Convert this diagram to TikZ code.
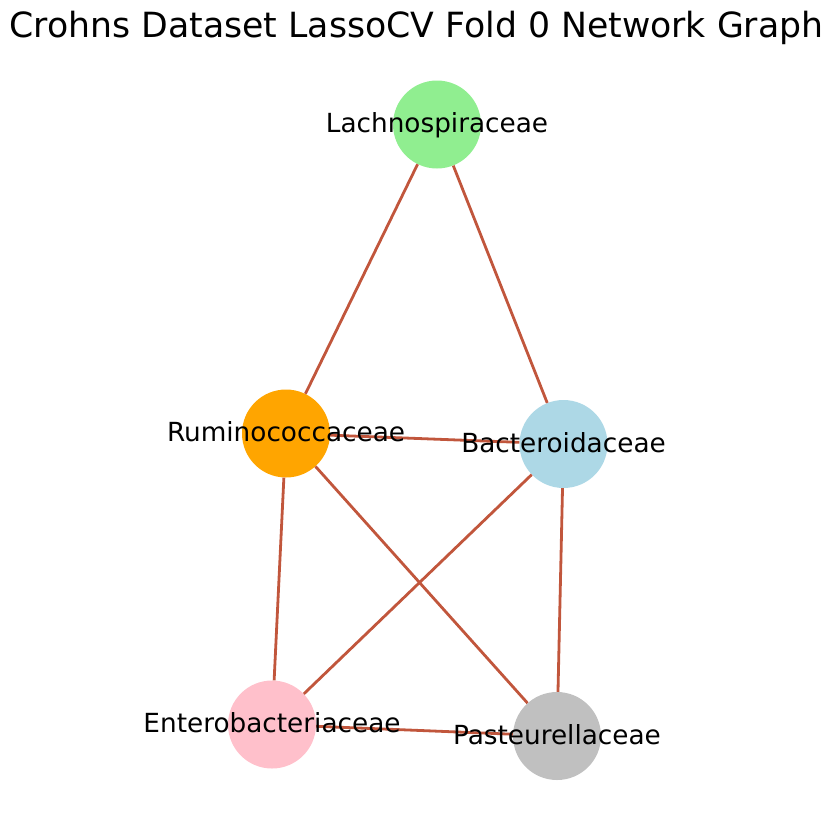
\documentclass[tikz,border=0pt]{standalone}
\usepackage{fontspec}
\setmainfont{DejaVu Sans}
\definecolor{edgecol}{RGB}{193,86,60}
\definecolor{lightgreen}{HTML}{90EE90}
\definecolor{orangenode}{HTML}{FFA500}
\definecolor{lightblue}{HTML}{ADD8E6}
\definecolor{pinknode}{HTML}{FFC0CB}
\definecolor{silvernode}{HTML}{C0C0C0}
\begin{document}
\begin{tikzpicture}[x=1pt, y=-1pt,
    taxon/.style={circle, minimum size=88pt, inner sep=0pt},
    taxlabel/.style={inner sep=0pt, text height=21pt, text depth=5pt,
      font=\fontsize{26.3}{31}\selectfont},
    link/.style={draw=edgecol, line width=2.8pt}]
  \useasboundingbox (0,0) rectangle (834,825);

  \node[anchor=base, inner sep=0pt, font=\fontsize{34.7}{40}\selectfont] (title)
    at (416.5,37) {Crohns Dataset LassoCV Fold 0 Network Graph};

  \node[taxon, fill=lightgreen] (lach) at (437,124.5) {};
  \node[taxon, fill=orangenode] (rumi) at (286,433.5) {};
  \node[taxon, fill=lightblue] (bact) at (563.5,444) {};
  \node[taxon, fill=pinknode] (entero) at (272,724.5) {};
  \node[taxon, fill=silvernode] (past) at (557,736) {};

  \foreach \a/\b in {lach/rumi, lach/bact, rumi/bact, rumi/entero, rumi/past,
      bact/entero, bact/past, entero/past}
    \draw[link] (\a) -- (\b);

  \foreach \n/\t in {lach/Lachnospiraceae, rumi/Ruminococcaceae, bact/Bacteroidaceae,
      entero/Enterobacteriaceae, past/Pasteurellaceae}
    \node[taxlabel] (\n-text) at (\n.center) {\t};
\end{tikzpicture}
\end{document}
